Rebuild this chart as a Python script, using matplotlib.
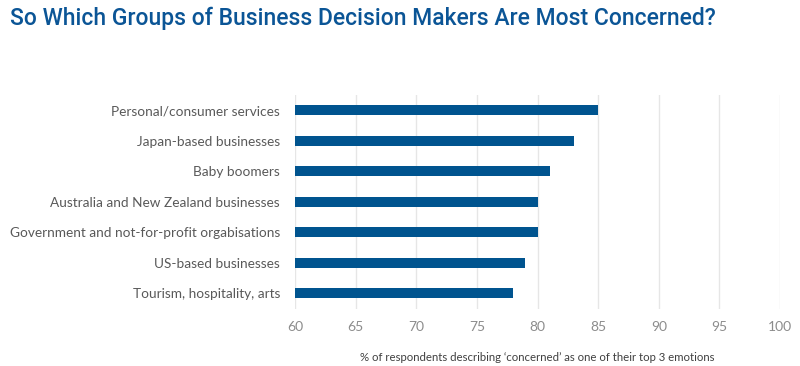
import matplotlib.pyplot as plt

groups = ['Personal/consumer services', 'Japan-based businesses', 'Baby boomers',
          'Australia and New Zealand businesses', 'Government and not-for-profit orgabisations',
          'US-based businesses', 'Tourism, hospitality, arts']
values = [85, 83, 81, 80, 80, 79, 78]
xticks = [60, 65, 70, 75, 80, 85, 90, 95, 100]

plt.rcParams['font.family'] = ['Lato', 'DejaVu Sans']

fig = plt.figure(figsize=(8, 3.66), dpi=100)
ax = fig.add_axes([0.369, 0.157, 0.606, 0.584])

ypos = list(range(len(groups)))
ax.barh(ypos, [v - 60 for v in values], left=60, height=0.33, color='#00548f', zorder=3)
ax.set_ylim(len(groups) - 0.5, -0.5)
ax.set_yticks(ypos)
ax.set_yticklabels(groups, fontsize=9.8, color='#595959')
ax.set_xlim(60, 100)
ax.set_xticks(xticks)
ax.set_xticklabels([str(t) for t in xticks], fontsize=10, color='#8c8c8c')
ax.grid(axis='x', color='#e6e6e6', linewidth=1, zorder=0)
for s in ax.spines.values():
    s.set_visible(False)
ax.tick_params(length=0, pad=11)
ax.tick_params(axis='x', pad=9)
ax.set_xlabel("% of respondents describing \u2018concerned\u2019 as one of their top 3 emotions",
              fontsize=8.2, color='#404040', labelpad=14)

fig.text(0.012, 0.95, 'So Which Groups of Business Decision Makers Are Most Concerned?',
         fontsize=16.5, color='#0b5596', va='center', ha='left', weight='medium',
         family=['Roboto', 'DejaVu Sans'])

fig.savefig('out.png', dpi=100)
